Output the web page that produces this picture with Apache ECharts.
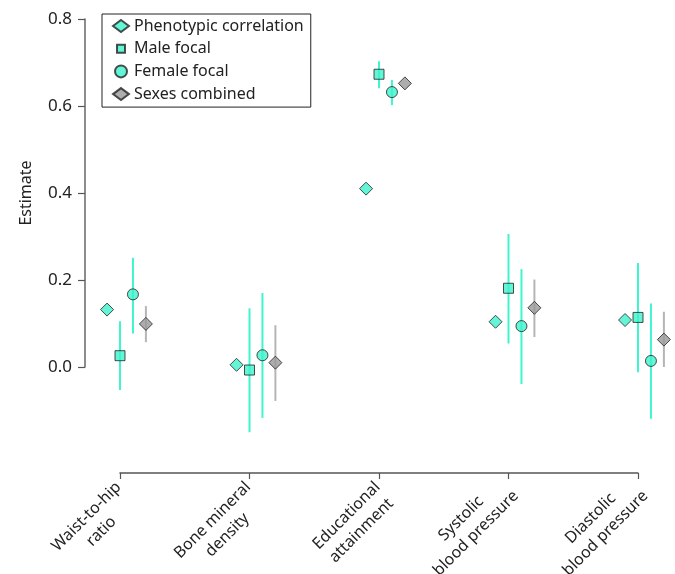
<!DOCTYPE html>
<html><head><meta charset="utf-8">
<script src="https://cdn.jsdelivr.net/npm/echarts@6/dist/echarts.min.js"></script>
<style>html,body{margin:0;padding:0;background:#fff}#c{width:675px;height:574px}</style>
</head><body><div id="c"></div>
<script>
const categories = ["Waist-to-hip\nratio", "Bone mineral\ndensity", "Educational\nattainment", "Systolic\nblood pressure", "Diastolic\nblood pressure"];
const phenotypic   = [0.132, 0.005, 0.410, 0.104, 0.108];
const maleFocal    = [0.026, -0.007, 0.673, 0.181, 0.114];
const maleLow      = [-0.053, -0.150, 0.641, 0.054, -0.012];
const maleHigh     = [0.105, 0.135, 0.703, 0.306, 0.239];
const femaleFocal  = [0.167, 0.027, 0.632, 0.094, 0.014];
const femaleLow    = [0.077, -0.117, 0.602, -0.039, -0.119];
const femaleHigh   = [0.251, 0.170, 0.660, 0.225, 0.146];
const combined     = [0.099, 0.010, 0.652, 0.136, 0.063];
const combinedLow  = [0.057, -0.078, null, 0.069, 0.000];
const combinedHigh = [0.140, 0.096, null, 0.201, 0.127];
const yTicks = [0.0, 0.2, 0.4, 0.6, 0.8];
const seriesNames = ["Phenotypic correlation", "Male focal", "Female focal", "Sexes combined"];

const TEAL = '#3cf2cc';
const TEAL_LINE = '#3ff5cf';
const GRAY = '#999999';
const GRAY_LINE = '#b5b5b5';
const FONT = 'Noto Sans';

function pts(vals, off) { return vals.map((v, i) => [i + 1 + off, v]); }
function bars(lo, hi, off) {
  const out = [];
  lo.forEach((l, i) => { if (l !== null && hi[i] !== null) out.push([i + 1 + off, l, hi[i]]); });
  return out;
}
function errSeries(lo, hi, off, color) {
  return {
    type: 'custom', clip: false, silent: true, z: 1,
    data: bars(lo, hi, off),
    encode: { x: 0, y: [1, 2] },
    renderItem: function (params, api) {
      const a = api.coord([api.value(0), api.value(1)]);
      const b = api.coord([api.value(0), api.value(2)]);
      return { type: 'line', shape: { x1: a[0], y1: a[1], x2: b[0], y2: b[1] },
               style: { stroke: color, lineWidth: 2 } };
    }
  };
}
const markerBorder = { borderColor: '#222', borderWidth: 1 };

const chart = echarts.init(document.getElementById('c'), null, { renderer: 'canvas' });
chart.setOption({
  animation: false,
  backgroundColor: '#fff',
  textStyle: { fontFamily: FONT },
  grid: { left: 120, right: 37, top: 19, bottom: 207, containLabel: false, outerBoundsMode: 'none' },
  legend: {
    data: [
      { name: seriesNames[0] },
      { name: seriesNames[1], icon: 'path://M0,0M12,12M2,2L10,2L10,10L2,10Z' },
      { name: seriesNames[2] },
      { name: seriesNames[3] }
    ],
    orient: 'vertical', left: 102, top: 14,
    padding: [4, 7, 5, 10],
    itemWidth: 16, itemHeight: 12, itemGap: 6.7,
    borderColor: '#222', borderWidth: 1,
    textStyle: { fontFamily: FONT, fontSize: 16, color: '#222', lineHeight: 16 }
  },
  xAxis: {
    type: 'value', min: 1, max: categories.length, interval: 1,
    position: 'bottom', offset: 106,
    axisLine: { show: true, onZero: false, lineStyle: { color: '#555', width: 1.5 } },
    axisTick: { show: true, length: 6, lineStyle: { color: '#555', width: 1.2 } },
    splitLine: { show: false },
    axisLabel: {
      rotate: 45, margin: 13, fontFamily: FONT, fontSize: 16, color: '#222',
      formatter: function (v) {
        const i = Math.round(v) - 1;
        if (!categories[i]) return '';
        const lines = categories[i].split('\n');
        const firstLonger = lines[0].length > lines[lines.length - 1].length;
        return (firstLonger ? '{s| }\n' : '') + lines.map(s => '{c|' + s + '}').join('\n');
      },
      rich: {
        c: { align: 'center', fontFamily: FONT, fontSize: 16, color: '#222', lineHeight: 21 },
        s: { fontSize: 1, lineHeight: 17 }
      }
    }
  },
  yAxis: {
    type: 'value', min: yTicks[0], max: yTicks[yTicks.length - 1], interval: yTicks[1] - yTicks[0],
    offset: 35,
    name: 'Estimate', nameLocation: 'middle', nameGap: 51,
    nameTextStyle: { fontFamily: FONT, fontSize: 16, color: '#222' },
    axisLine: { show: true, lineStyle: { color: '#666', width: 1.5 } },
    axisTick: { show: true, length: 7, lineStyle: { color: '#555', width: 1.2 } },
    splitLine: { show: false },
    axisLabel: { margin: 13, fontFamily: FONT, fontSize: 17, color: '#222',
      formatter: function (v) { return v.toFixed(1); } }
  },
  series: [
    errSeries(maleLow, maleHigh, 0, TEAL_LINE),
    errSeries(femaleLow, femaleHigh, 0.1, TEAL_LINE),
    errSeries(combinedLow, combinedHigh, 0.2, GRAY_LINE),
    { name: seriesNames[0], type: 'scatter', clip: false, z: 3, symbol: 'diamond', symbolSize: 13,
      itemStyle: Object.assign({ color: TEAL }, markerBorder), data: pts(phenotypic, -0.1) },
    { name: seriesNames[1], type: 'scatter', clip: false, z: 3, symbol: 'rect', symbolSize: 10,
      itemStyle: Object.assign({ color: TEAL }, markerBorder), data: pts(maleFocal, 0) },
    { name: seriesNames[2], type: 'scatter', clip: false, z: 3, symbol: 'circle', symbolSize: 11,
      itemStyle: Object.assign({ color: TEAL }, markerBorder), data: pts(femaleFocal, 0.1) },
    { name: seriesNames[3], type: 'scatter', clip: false, z: 3, symbol: 'diamond', symbolSize: 13,
      itemStyle: Object.assign({ color: GRAY }, markerBorder), data: pts(combined, 0.2) }
  ]
});
</script></body></html>
